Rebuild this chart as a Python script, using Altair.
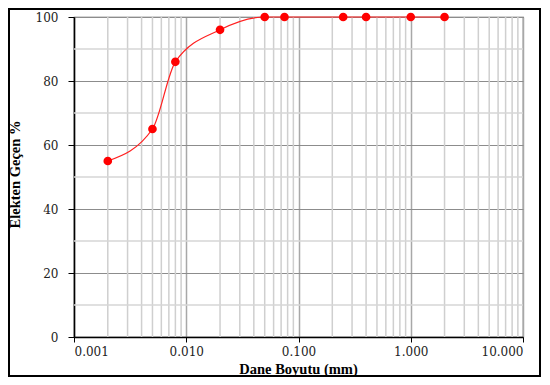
import altair as alt
import pandas as pd

# data
grain_size_mm = [0.002, 0.005, 0.008, 0.02, 0.05, 0.075, 0.25, 0.4, 1.0, 2.0]
passing_pct = [55, 65, 86, 96, 100, 100, 100, 100, 100, 100]

x_major = [0.001, 0.01, 0.1, 1, 10]
x_minor = [m * d for d in [0.001, 0.01, 0.1, 1] for m in range(2, 10)]
y_major = [0, 20, 40, 60, 80, 100]
y_minor = [10, 30, 50, 70, 90]

df = pd.DataFrame({"size": grain_size_mm, "pct": passing_pct})

W, H = 449, 320

xscale = alt.Scale(type="log", domain=[0.001, 10], nice=False)
yscale = alt.Scale(domain=[0, 100], nice=False)

xaxis = alt.Axis(
    values=x_major, format=".3f", grid=True, gridColor="#a8a8a8", gridWidth=1.5,
    domainColor="black", domainWidth=1.5, tickColor="black", tickSize=5,
    labelFont="DejaVu Serif", labelFontSize=12, labelColor="#222", labelPadding=4,
    title="Dane Boyutu (mm)", titleFont="Liberation Serif", titleFontSize=14.5,
    titleFontWeight="bold", titleColor="black", titleX=224, titleY=36,
    titleBaseline="alphabetic", titleAlign="center",
)
yaxis = alt.Axis(
    values=y_major, grid=True, gridColor="#8c8c8c", gridWidth=1,
    domainColor="black", domainWidth=1.5, tickColor="black", tickSize=6,
    labelFont="DejaVu Serif", labelFontSize=12, labelColor="#222", labelPadding=10,
    title="Elekten Geçen %", titleFont="Liberation Serif", titleFontSize=14.5,
    titleFontWeight="bold", titleColor="black", titleAngle=270,
    titleX=-52, titleY=157, titleBaseline="bottom", titleAlign="center",
)

minor_x = alt.Chart(pd.DataFrame({"v": x_minor})).mark_rule(
    color="#cfcfcf", strokeWidth=1.5
).encode(x=alt.X("v:Q", scale=xscale, axis=xaxis))

minor_y = alt.Chart(pd.DataFrame({"v": y_minor})).mark_rule(
    color="#d6d6d6", strokeWidth=1.5
).encode(y=alt.Y("v:Q", scale=yscale, axis=yaxis))

line = alt.Chart(df).mark_line(
    color="#ff2020", strokeWidth=1.2, interpolate="monotone"
).encode(
    x=alt.X("size:Q", scale=xscale, axis=xaxis),
    y=alt.Y("pct:Q", scale=yscale, axis=yaxis),
)

points = alt.Chart(df).mark_circle(color="#ff0000", opacity=1, size=75).encode(
    x=alt.X("size:Q", scale=xscale, axis=xaxis),
    y=alt.Y("pct:Q", scale=yscale, axis=yaxis),
)

border = alt.Chart(pd.DataFrame({"a": [0]})).mark_rect(
    filled=False, stroke="black", strokeWidth=2
).encode(
    x=alt.value(-65), x2=alt.value(466), y=alt.value(-8), y2=alt.value(359)
)

chart = alt.layer(minor_x, minor_y, line, points, border).properties(
    width=W, height=H,
    autosize=alt.AutoSizeParams(type="none"),
    padding={"left": 66, "top": 9, "right": 18, "bottom": 40},
).configure_view(stroke="#555", strokeWidth=1.2)

chart.save("out.html", embed_options={"renderer": "svg", "actions": False})
